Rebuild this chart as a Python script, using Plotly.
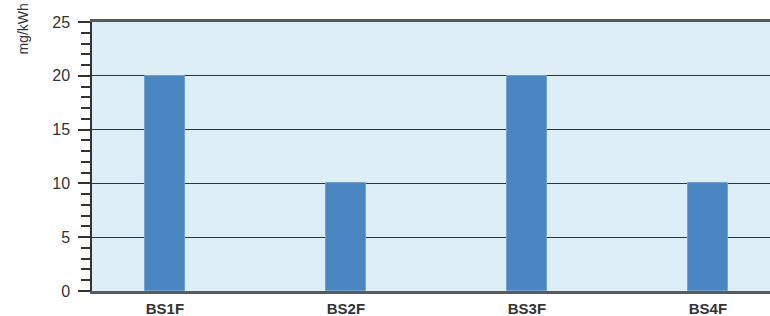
import plotly.graph_objects as go

categories = ["BS1F", "BS2F", "BS3F", "BS4F"]
values = [20, 10, 20, 10]
y_tick_vals = [0, 5, 10, 15, 20, 25]
y_title = "mg/kWh"

fig = go.Figure()
fig.add_trace(go.Bar(
    x=categories, y=values, width=0.22,
    marker=dict(color="#4A86C2", line=dict(color="#6FA3D3", width=1)),
))

fig.update_layout(
    width=770, height=316,
    margin=dict(l=92, r=0, t=22, b=25, pad=0, autoexpand=False),
    paper_bgcolor="white", plot_bgcolor="#DEEEF7",
    showlegend=False,
    font=dict(family="Liberation Sans, Arial, sans-serif", color="#333333"),
    bargap=0,
)
fig.update_xaxes(
    type="category", range=[-0.403, 3.343], automargin=False,
    showgrid=False, showline=True, mirror=True, linecolor="#5a5a5a", linewidth=2.5,
    ticks="", tickfont=dict(size=15, color="#333333", family="Liberation Sans, Arial, sans-serif", weight="bold"),
    ticklabelstandoff=2,
    zeroline=False,
)
fig.update_yaxes(
    range=[0, 25], tickvals=y_tick_vals, automargin=False,
    showgrid=True, gridcolor="#333333", gridwidth=1.3,
    showline=True, linecolor="#333333", linewidth=1.5,
    ticks="outside", ticklen=12, tickwidth=1.5, tickcolor="#333333",
    minor=dict(dtick=1, ticks="outside", ticklen=9, tickwidth=1.5, tickcolor="#333333", showgrid=False),
    tickfont=dict(size=16, color="#333333"), ticklabelstandoff=5,
    zeroline=False,
)
fig.add_annotation(
    text=y_title, textangle=-90, xref="paper", yref="paper",
    x=0, y=0.972, xanchor="center", yanchor="middle", xshift=-69,
    showarrow=False, font=dict(size=14, color="#333333"),
)
fig.write_html(
    "out.html",
    config={"displayModeBar": False},
    post_script="document.body.style.margin='0';document.body.style.overflow='hidden';",
)
